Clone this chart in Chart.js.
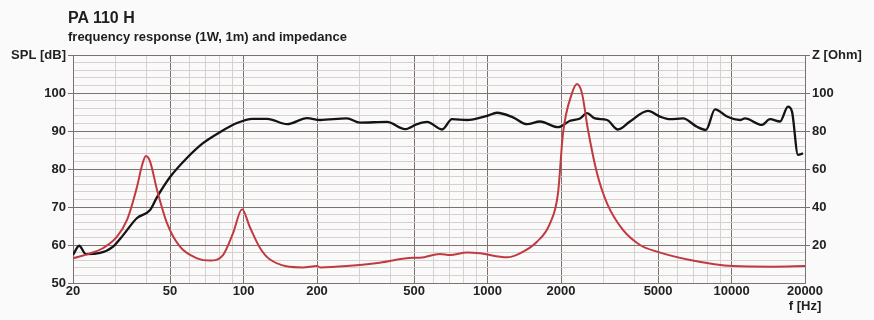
<!DOCTYPE html>
<html>
<head>
<meta charset="utf-8">
<script src="https://cdn.jsdelivr.net/npm/chart.js@4/dist/chart.umd.min.js"></script>
<style>
  body { margin: 0; background: #fafafa; }
  #wrap { position: relative; width: 874px; height: 320px; font-family: "Liberation Sans", Arial, sans-serif; color: #1e1e1e; }
  #title { position: absolute; left: 68px; top: 10px; font-size: 16px; line-height: 16px; font-weight: bold; }
  #subtitle { position: absolute; left: 68px; top: 30px; font-size: 13px; line-height: 13px; font-weight: bold; }
  canvas { position: absolute; left: 0; top: 0; }
</style>
</head>
<body>
<div id="wrap">
  <canvas id="myChart" width="874" height="320"></canvas>
  <div id="title">PA 110 H</div>
  <div id="subtitle">frequency response (1W, 1m) and impedance</div>
</div>
<script>
// SPL curve (black)
var splFreq = [20, 21.2, 22.6, 25.8, 29.2, 32.1, 36.6, 41.4, 44.2, 50,
  58.6, 68.2, 80, 94, 109, 125, 151, 182, 206, 265,
  300, 387, 459, 514, 565, 651, 715, 824, 995, 1093,
  1271, 1451, 1640, 1944, 2178, 2394, 2556, 2757, 3088, 3424,
  3835, 4545, 5089, 5594, 6325, 7218, 7858, 8556, 9580, 10830,
  11350, 13330, 14380, 15800, 17030, 17690, 18720, 19620];
var splDb = [57.4, 59.8, 57.6, 57.9, 59.6, 62.6, 67.1, 69.2, 72.6, 77.9,
  82.9, 86.8, 89.7, 92.1, 93.2, 93.2, 91.8, 93.4, 92.9, 93.3,
  92.2, 92.4, 90.5, 91.8, 92.4, 90.4, 93.1, 92.9, 94.0, 94.8,
  93.6, 91.8, 92.5, 91.0, 92.7, 93.3, 94.7, 93.3, 92.9, 90.4,
  92.5, 95.3, 93.8, 93.1, 93.3, 91.1, 90.3, 95.7, 93.8, 92.9,
  93.3, 91.6, 93.1, 92.5, 96.4, 95.1, 83.7, 84.1];

// impedance curve (red)
var zFreq = [20, 23.5, 26.5, 30.3, 33.3, 36.6, 38.4, 39.8, 41.4, 44.2,
  48.6, 54.9, 64.5, 72.9, 82.4, 90.5, 98.6, 106, 117, 128,
  175, 200, 206, 265, 362, 495, 529, 638, 702, 824,
  931, 1201, 1358, 1594, 1803, 1944, 2038, 2218, 2326, 2438,
  2581, 2810, 3088, 3589, 4216, 4948, 6758, 10140, 14790, 20000];
var zOhm = [13.0, 15.6, 18.3, 24.4, 33.2, 50.7, 62.1, 66.8, 63.9, 49.0,
  31.4, 19.1, 13.0, 11.8, 14.7, 26.1, 38.8, 29.6, 18.3, 12.5,
  8.2, 8.9, 8.2, 8.9, 10.7, 13.3, 13.3, 15.3, 14.7, 16.0,
  15.6, 13.5, 15.6, 21.7, 31.4, 47.2, 78.8, 99.8, 104.7, 99.8,
  80.5, 57.7, 41.9, 27.9, 20.0, 16.5, 12.1, 8.9, 8.6, 8.9];

// axis ticks
var freqGrid = [20, 30, 40, 50, 60, 70, 80, 90, 100, 200, 300, 400, 500, 600, 700, 800, 900,
  1000, 2000, 3000, 4000, 5000, 6000, 7000, 8000, 9000, 10000, 20000];
var freqLabels = [20, 50, 100, 200, 500, 1000, 2000, 5000, 10000, 20000];
var splLabels = [50, 60, 70, 80, 90, 100];
var zLabels = [20, 40, 60, 80, 100];

var majorCol = "#7f716e";
var minorCol = "#d8d0cf";
var tickFont = { family: "'Liberation Sans', Arial, sans-serif", size: 13, weight: "bold", lineHeight: 1.15 };

function toPoints(xs, ys) {
  var pts = [];
  for (var i = 0; i < xs.length; i++) {
    pts.push({ x: xs[i], y: ys[i] });
  }
  return pts;
}

function isMajorFreq(v) {
  for (var i = 0; i < freqLabels.length; i++) {
    if (Math.abs(freqLabels[i] - v) < 0.01) return true;
  }
  return false;
}

var ctx = document.getElementById("myChart").getContext("2d");

var myChart = new Chart(ctx, {
  type: "line",
  data: {
    datasets: [{
      label: "SPL",
      data: toPoints(splFreq, splDb),
      yAxisID: "y",
      borderColor: "#141414",
      borderWidth: 2.3,
      pointRadius: 0,
      cubicInterpolationMode: "monotone",
      order: 1
    }, {
      label: "Z",
      data: toPoints(zFreq, zOhm),
      yAxisID: "y2",
      borderColor: "#c23a41",
      borderWidth: 2,
      pointRadius: 0,
      cubicInterpolationMode: "monotone",
      order: 0
    }]
  },
  options: {
    responsive: false,
    animation: false,
    layout: { padding: { top: 55, left: 0, right: 0, bottom: 0 } },
    plugins: { legend: { display: false }, tooltip: { enabled: false } },
    scales: {
      x: {
        type: "logarithmic",
        min: 20,
        max: 20000,
        afterBuildTicks: function(scale) {
          scale.ticks = freqGrid.map(function(v) { return { value: v }; });
        },
        afterFit: function(scale) { scale.height = 37; },
        ticks: {
          autoSkip: false,
          maxRotation: 0,
          padding: 1,
          color: "#222",
          font: tickFont,
          callback: function(v) {
            if (v === 20000) return ["20000", "f [Hz]"];
            return isMajorFreq(v) ? String(v) : "";
          }
        },
        grid: {
          drawTicks: false,
          color: function(c) {
            return isMajorFreq(c.tick.value) ? majorCol : minorCol;
          },
          lineWidth: 1
        },
        border: { display: true, color: majorCol, width: 1 }
      },
      y: {
        position: "left",
        min: 50,
        max: 110,
        afterFit: function(scale) { scale.width = 73; },
        ticks: {
          stepSize: 2,
          autoSkip: false,
          padding: 2,
          color: "#222",
          font: tickFont,
          callback: function(v) {
            if (v === 110) return "SPL [dB]";
            return splLabels.indexOf(v) >= 0 ? String(v) : "";
          }
        },
        grid: {
          tickLength: 5,
          color: function(c) {
            return c.tick.value % 10 === 0 ? majorCol : minorCol;
          },
          tickColor: function(c) {
            return c.tick.value % 10 === 0 ? majorCol : "rgba(0,0,0,0)";
          },
          lineWidth: 1
        },
        border: { display: true, color: majorCol, width: 1 }
      },
      y2: {
        position: "right",
        min: 0,
        max: 120,
        afterFit: function(scale) { scale.width = 69; },
        ticks: {
          stepSize: 20,
          autoSkip: false,
          padding: 2,
          color: "#222",
          font: tickFont,
          callback: function(v) {
            if (v === 120) return "Z [Ohm]";
            return zLabels.indexOf(v) >= 0 ? String(v) : "";
          }
        },
        grid: {
          drawOnChartArea: false,
          tickLength: 5,
          tickColor: function(c) {
            return c.tick.value === 0 ? "rgba(0,0,0,0)" : majorCol;
          }
        },
        border: { display: true, color: majorCol, width: 1 }
      }
    }
  }
});
</script>
</body>
</html>
